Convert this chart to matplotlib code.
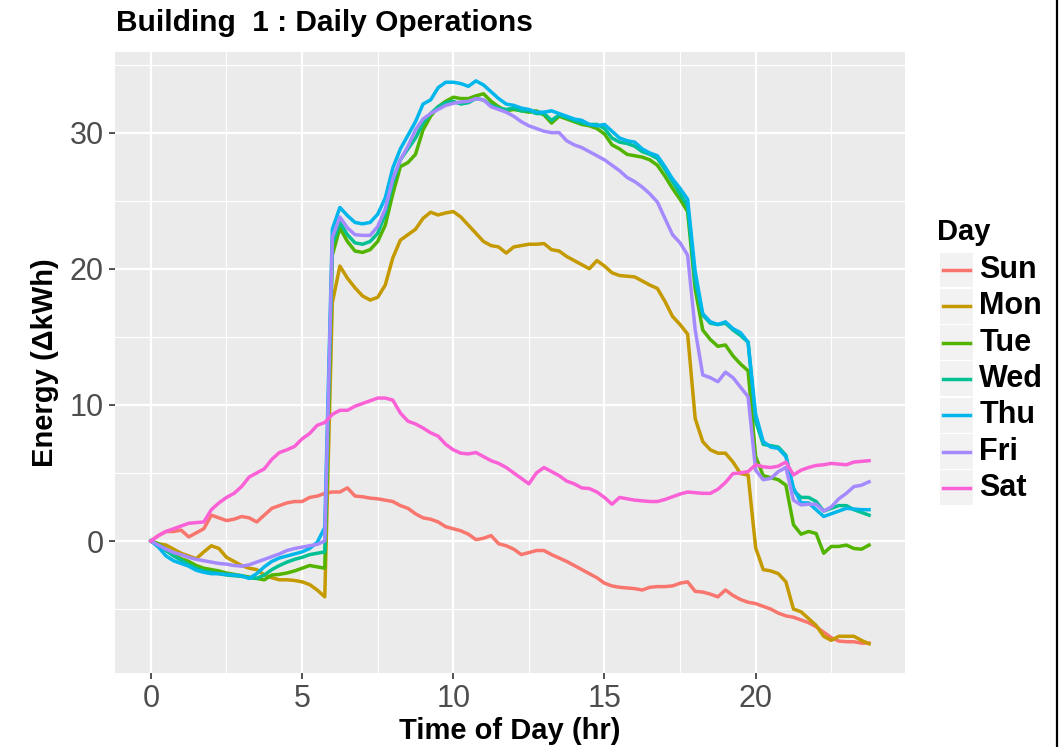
import numpy as np
import matplotlib.pyplot as plt
from matplotlib.lines import Line2D
from matplotlib.patches import Rectangle

plt.rcParams['font.family'] = ['Liberation Sans', 'DejaVu Sans']

# time of day, 15 minute steps
hours = np.arange(96) * 0.25

days = ["Sun", "Mon", "Tue", "Wed", "Thu", "Fri", "Sat"]
colors = ["#F8766D", "#C49A00", "#53B400", "#00C094", "#00B6EB", "#A58AFF", "#FB61D7"]

sun = [0, 0.4, 0.7, 0.7, 0.8, 0.3, 0.6, 0.9, 1.9, 1.7, 1.5, 1.6,
       1.8, 1.7, 1.4, 1.9, 2.4, 2.6, 2.8, 2.9, 2.9, 3.2, 3.3, 3.5,
       3.6, 3.6, 3.9, 3.3, 3.25, 3.15, 3.1, 3.0, 2.9, 2.6, 2.4, 2.0,
       1.7, 1.6, 1.4, 1.05, 0.9, 0.75, 0.5, 0.1, 0.2, 0.4, -0.2, -0.35,
       -0.6, -1.0, -0.85, -0.7, -0.7, -1.0, -1.25, -1.5, -1.8, -2.1, -2.4, -2.7,
       -3.1, -3.3, -3.4, -3.45, -3.5, -3.6, -3.4, -3.35, -3.35, -3.3, -3.1, -3.0,
       -3.7, -3.75, -3.9, -4.1, -3.6, -4.0, -4.3, -4.5, -4.6, -4.8, -5.0, -5.3,
       -5.5, -5.6, -5.8, -6.0, -6.3, -6.7, -7.1, -7.35, -7.4, -7.4, -7.5, -7.5]

mon = [0, -0.2, -0.3, -0.6, -0.9, -1.1, -1.3, -0.8, -0.35, -0.55, -1.2, -1.5,
       -1.8, -2.0, -2.1, -2.5, -2.7, -2.85, -2.85, -2.9, -3.0, -3.2, -3.6, -4.1,
       17.5, 20.2, 19.3, 18.6, 18.0, 17.7, 17.9, 18.8, 20.8, 22.1, 22.5, 22.9,
       23.7, 24.15, 23.95, 24.1, 24.2, 23.8, 23.2, 22.6, 22.0, 21.7, 21.6, 21.15,
       21.6, 21.7, 21.8, 21.8, 21.85, 21.4, 21.3, 20.9, 20.6, 20.3, 20.0, 20.6,
       20.2, 19.7, 19.5, 19.45, 19.4, 19.1, 18.8, 18.55, 17.6, 16.5, 15.9, 15.2,
       9.0, 7.3, 6.7, 6.45, 6.45, 5.8, 4.95, 4.85, -0.5, -2.1, -2.2, -2.4,
       -3.0, -5.0, -5.2, -5.7, -6.2, -7.0, -7.3, -7.0, -7.0, -7.0, -7.3, -7.55]

tue = [0, -0.2, -0.6, -1.0, -1.3, -1.5, -1.8, -2.0, -2.1, -2.2, -2.35, -2.45,
       -2.55, -2.65, -2.75, -2.85, -2.5, -2.45, -2.35, -2.2, -2.0, -1.8, -1.9, -2.0,
       21.0, 23.0, 22.0, 21.3, 21.2, 21.4, 22.0, 23.2, 25.5, 27.5, 27.8, 28.4,
       30.2, 31.2, 31.9, 32.3, 32.6, 32.5, 32.5, 32.7, 32.85, 32.3, 31.9, 31.6,
       31.7, 31.6, 31.5, 31.6, 31.3, 30.7, 31.2, 31.0, 30.8, 30.6, 30.5, 30.3,
       29.9, 29.1, 28.8, 28.4, 28.3, 28.2, 28.0, 27.6, 26.8, 25.9, 25.1, 24.2,
       18.5, 15.5, 14.8, 14.3, 14.4, 13.6, 13.0, 12.5, 6.2, 4.8, 4.65, 4.5,
       4.1, 1.2, 0.5, 0.7, 0.55, -0.9, -0.4, -0.4, -0.3, -0.55, -0.6, -0.3]

wed = [0, -0.3, -0.7, -1.1, -1.4, -1.75, -2.0, -2.2, -2.3, -2.4, -2.5, -2.55,
       -2.6, -2.7, -2.75, -2.5, -2.1, -1.8, -1.55, -1.35, -1.2, -1.0, -0.9, -0.8,
       21.8, 23.4, 22.5, 21.9, 21.8, 22.0, 22.6, 24.0, 26.3, 28.0, 28.8, 29.6,
       30.7, 31.4, 31.9, 32.2, 32.3, 32.1, 32.2, 32.5, 32.4, 32.0, 31.8, 31.7,
       31.8, 31.6, 31.6, 31.4, 31.4, 30.9, 31.3, 31.1, 30.9, 30.7, 30.6, 30.6,
       30.3, 29.6, 29.3, 29.2, 29.0, 28.6, 28.4, 28.1, 27.3, 26.4, 25.5, 24.6,
       19.0, 16.6, 16.0, 15.9, 16.0, 15.5, 15.1, 14.6, 8.8, 7.1, 7.0, 6.9,
       6.3, 3.7, 3.2, 3.2, 2.9, 2.2, 2.4, 2.6, 2.6, 2.3, 2.1, 1.9]

thu = [0, -0.45, -1.1, -1.45, -1.65, -1.85, -2.15, -2.3, -2.4, -2.4, -2.45, -2.5,
       -2.55, -2.75, -2.4, -1.9, -1.5, -1.25, -1.1, -0.95, -0.8, -0.55, -0.1, 1.0,
       22.9, 24.5, 23.9, 23.4, 23.3, 23.4, 24.0, 25.2, 27.4, 28.8, 29.8, 30.8,
       32.1, 32.4, 33.3, 33.7, 33.7, 33.6, 33.4, 33.8, 33.5, 33.0, 32.5, 32.1,
       32.0, 31.8, 31.7, 31.5, 31.5, 31.6, 31.4, 31.2, 31.0, 30.9, 30.6, 30.5,
       30.6, 30.1, 29.6, 29.4, 29.3, 28.8, 28.5, 28.3, 27.5, 26.6, 25.9, 25.1,
       19.8, 16.7, 16.1, 15.9, 16.1, 15.6, 15.3, 14.6, 9.3, 7.3, 6.9, 6.8,
       6.2, 3.9, 2.8, 2.8, 2.3, 1.8, 2.0, 2.2, 2.4, 2.35, 2.3, 2.3]

fri = [0, -0.3, -0.6, -0.85, -1.0, -1.2, -1.35, -1.45, -1.55, -1.65, -1.7, -1.8,
       -1.85, -1.75, -1.55, -1.35, -1.15, -0.95, -0.7, -0.55, -0.45, -0.35, -0.25, 0.0,
       22.3, 23.8, 23.0, 22.5, 22.45, 22.45, 23.1, 24.4, 26.6, 28.0, 29.0, 30.2,
       31.0, 31.4, 31.7, 32.0, 32.15, 32.25, 32.3, 32.5, 32.4, 31.9, 31.7, 31.5,
       31.2, 30.8, 30.5, 30.3, 30.1, 30.0, 30.0, 29.4, 29.1, 28.9, 28.6, 28.3,
       28.0, 27.6, 27.2, 26.7, 26.4, 26.0, 25.5, 24.9, 23.7, 22.5, 21.9, 21.0,
       15.5, 12.2, 12.0, 11.7, 12.4, 12.0, 11.3, 10.6, 5.2, 4.5, 4.6, 5.1,
       5.4, 3.0, 2.65, 2.7, 2.7, 2.2, 2.5, 3.1, 3.5, 4.0, 4.1, 4.35]

sat = [0, 0.4, 0.7, 0.9, 1.1, 1.3, 1.35, 1.4, 2.3, 2.8, 3.2, 3.5,
       4.0, 4.7, 5.0, 5.3, 6.0, 6.5, 6.7, 6.95, 7.5, 7.9, 8.5, 8.7,
       9.3, 9.6, 9.6, 9.9, 10.1, 10.3, 10.5, 10.5, 10.35, 9.4, 8.8, 8.6,
       8.3, 7.95, 7.7, 7.1, 6.7, 6.45, 6.4, 6.5, 6.2, 5.9, 5.7, 5.4,
       5.0, 4.6, 4.2, 5.0, 5.4, 5.1, 4.8, 4.4, 4.2, 3.9, 3.85, 3.6,
       3.2, 2.7, 3.2, 3.1, 3.0, 2.95, 2.9, 2.9, 3.05, 3.25, 3.45, 3.6,
       3.55, 3.5, 3.5, 3.8, 4.3, 4.95, 5.0, 5.1, 5.6, 5.45, 5.4, 5.5,
       5.8, 4.85, 5.2, 5.4, 5.55, 5.6, 5.7, 5.65, 5.6, 5.8, 5.85, 5.9]

series = [sun, mon, tue, wed, thu, fri, sat]

fig = plt.figure(figsize=(10.64, 7.47), dpi=100)
ax = fig.add_axes([0.108, 0.099, 0.7426, 0.831])
ax.set_facecolor("#EBEBEB")

for vals, c in zip(series, colors):
    ax.plot(hours, vals, color=c, lw=2.5, solid_joinstyle="round", zorder=3)

ax.set_xticks([0, 5, 10, 15, 20])
ax.set_yticks([0, 10, 20, 30])
ax.set_xticks([2.5, 7.5, 12.5, 17.5, 22.5], minor=True)
ax.set_yticks([-5, 5, 15, 25, 35], minor=True)
# limits after the ticks, ggplot style 5% padding
ax.set_xlim(-1.19, 24.94)
ax.set_ylim(-9.7, 35.9)
ax.grid(which="major", color="white", lw=1.6, zorder=1)
ax.grid(which="minor", color="white", lw=0.8, zorder=1)
ax.set_axisbelow(True)
for s in ax.spines.values():
    s.set_visible(False)
ax.tick_params(which="major", length=4, width=1.2, color="#333333",
               labelsize=22, labelcolor="#4D4D4D", pad=4)
ax.tick_params(which="minor", length=0)

ax.set_xlabel("Time of Day (hr)", fontsize=21, fontweight="bold", labelpad=2)
ax.set_ylabel("Energy (\u0394kWh)", fontsize=21, fontweight="bold", labelpad=8)
fig.text(0.109, 0.969, "Building  1 : Daily Operations", fontsize=21.5,
         fontweight="bold", ha="left", va="center")

# legend drawn by hand so the keys get the grey boxes
fig.text(0.881, 0.69, "Day", fontsize=21, fontweight="bold", ha="left", va="center")
row_h = 36.3 / 747
for i, (d, c) in enumerate(zip(days, colors)):
    yc = 1 - (270 + i * 36.3) / 747
    fig.add_artist(Rectangle((0.8835, yc - row_h / 2 + 0.001), 0.031, row_h - 0.002,
                             transform=fig.transFigure, facecolor="#F2F2F2",
                             edgecolor="none"))
    fig.add_artist(Line2D([0.8865, 0.912], [yc, yc], transform=fig.transFigure,
                          color=c, lw=2.5))
    fig.text(0.9205, yc, d, fontsize=22, fontweight="bold", ha="left", va="center")

# dark border at the right edge of the picture
fig.add_artist(Line2D([0.9935, 0.9935], [0, 1], transform=fig.transFigure,
                      color="black", lw=1.6))

fig.savefig("out.png", dpi=100)
